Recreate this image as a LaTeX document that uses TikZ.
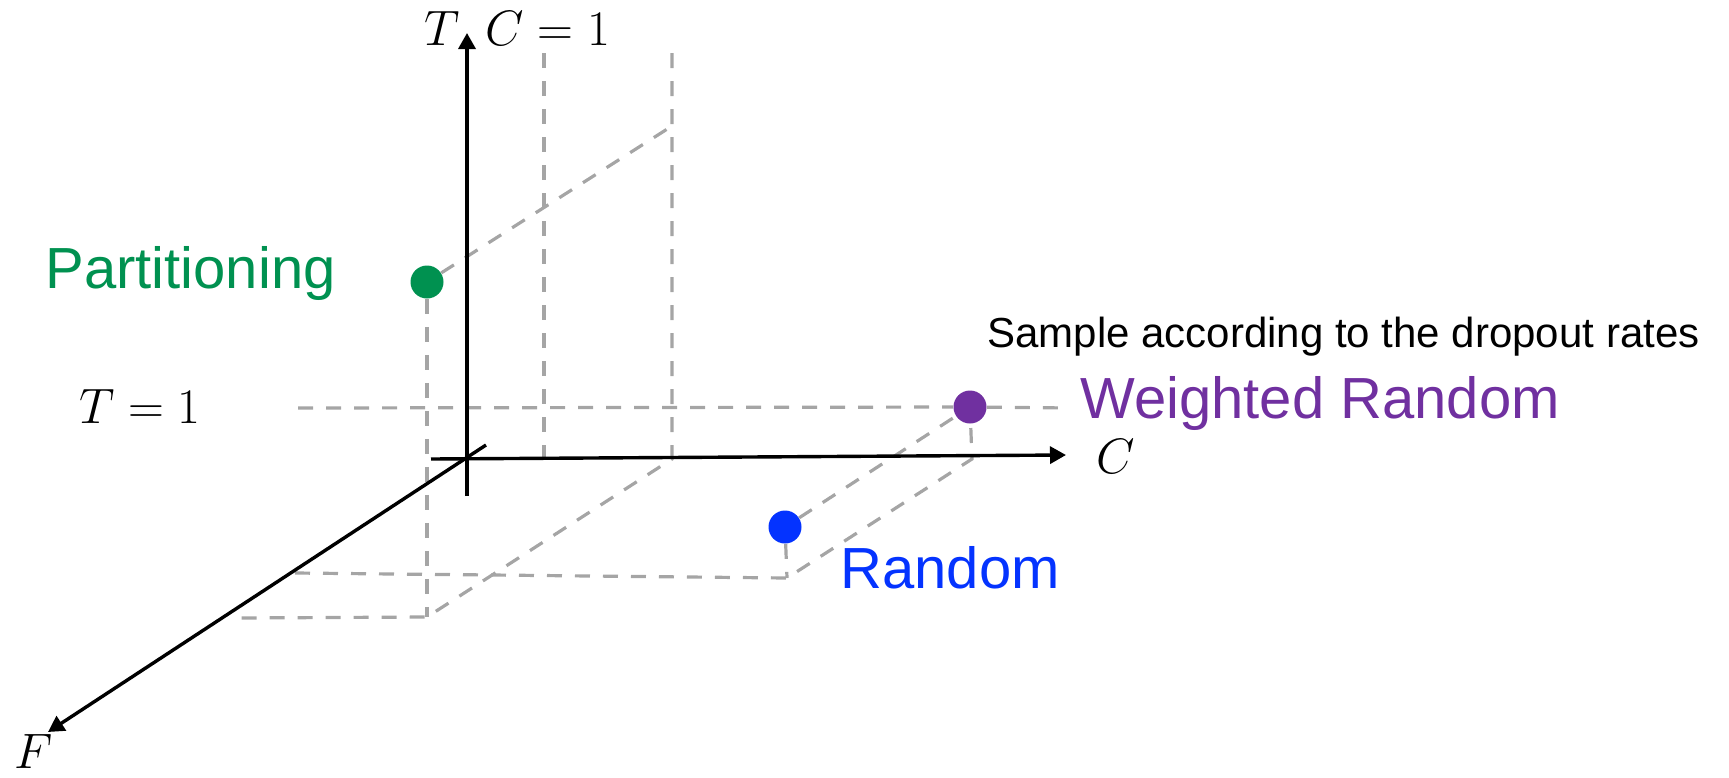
\documentclass[tikz,border=0pt]{standalone}
\usepackage{fontspec}
\setmainfont{Liberation Sans}
\usetikzlibrary{arrows.meta}
\definecolor{partgreen}{RGB}{0,145,80}
\definecolor{wpurple}{RGB}{112,48,160}
\definecolor{rblue}{RGB}{4,51,255}
\definecolor{guide}{RGB}{165,165,165}
\begin{document}
\begin{tikzpicture}[x=0.5pt,y=-0.5pt,
  axis/.style={line width=1.7pt,-{Triangle[length=8pt,width=8.5pt]}},
  guideline/.style={guide,line width=1.6pt,dash pattern=on 7.5pt off 6.5pt},
  dot/.style={circle,inner sep=0pt,minimum size=16.5pt},
  mathlabel/.style={inner sep=0pt,anchor=base,font=\fontsize{25}{30}\selectfont},
  biglabel/.style={inner sep=0pt,anchor=base west,font=\fontsize{29}{34}\selectfont},
  smalllabel/.style={inner sep=0pt,anchor=base west,font=\fontsize{21}{25}\selectfont},
]
\useasboundingbox (0,0) rectangle (1729,777);

% axis end points
\coordinate (Tbot) at (467,496);
\coordinate (Ttip) at (467,33);
\coordinate (Cstart) at (431,459);
\coordinate (Ctip) at (1066,455);
\coordinate (Fstart) at (486,445);
\coordinate (Ftip) at (48,732);

% guide corners
\coordinate (PB) at (427,617);
\coordinate (PTop) at (672,126);
\coordinate (V1top) at (544,53);
\coordinate (V1bot) at (544,459);
\coordinate (V2top) at (672,53);
\coordinate (V2bot) at (672,459);
\coordinate (BL) at (238,618);
\coordinate (T1L) at (298,408);
\coordinate (T1R) at (1070,408);
\coordinate (UL) at (295,573);
\coordinate (RB) at (787,578);
\coordinate (WB) at (972,459);

% dots
\node[dot,fill=partgreen] (P) at (427,282) {};
\node[dot,fill=rblue] (R) at (785,527) {};
\node[dot,fill=wpurple] (W) at (970,407) {};

% guide lines
\draw[guideline] (P) -- (PB);
\draw[guideline] (P) -- (PTop);
\draw[guideline] (V1top) -- (V1bot);
\draw[guideline] (V2top) -- (V2bot) -- (PB) -- (BL);
\draw[guideline] (T1L) -- (W);
\draw[guideline] (W) -- (T1R);
\draw[guideline] (UL) -- (RB) -- (WB) -- (W);
\draw[guideline] (R) -- (RB);
\draw[guideline] (R) -- (W);

% axes
\draw[axis] (Tbot) -- (Ttip);
\draw[axis] (Cstart) -- (Ctip);
\draw[axis] (Fstart) -- (Ftip);

% math labels
\node[mathlabel] (Tlab) at (442,45) {$T$};
\node[mathlabel] (C1lab) at (548,45) {$C=1$};
\node[mathlabel] (T1lab) at (140,423) {$T=1$};
\node[mathlabel] (Flab) at (34,768) {$F$};
\node[mathlabel] (Clab) at (1116,473) {$C$};

% text labels
\node[biglabel,text=partgreen] (Plab) at (45,288) {Partitioning};
\node[biglabel,text=wpurple] (Wlab) at (1080,418) {Weighted Random};
\node[biglabel,text=rblue] (Rlab) at (840,588) {Random};
\node[smalllabel] (Slab) at (987,347) {Sample according to the dropout rates};
\end{tikzpicture}
\end{document}
